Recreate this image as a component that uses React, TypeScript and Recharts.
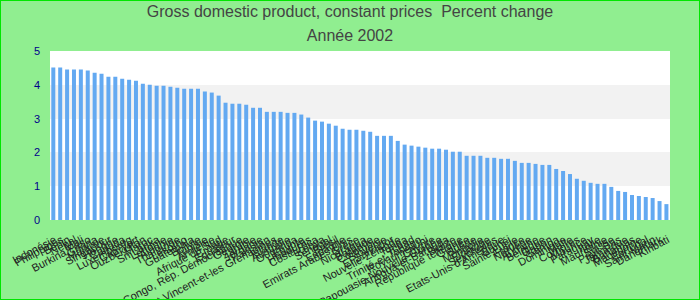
import React from 'react';
import { BarChart, Bar, XAxis, YAxis, CartesianGrid, ReferenceArea } from 'recharts';

const categories: string[] = [
  'Indonésie', 'Philippines', 'Bénin', 'Népal', 'Mali', 'Burkina Faso', 'Ghana', 'Malaisie', 'Singapour', 'Hongrie',
  'Canada', 'Luxembourg', 'Cap-Vert', 'Ouzbékistan', 'Maroc', 'Sri Lanka', 'Lettonie', 'Albanie', 'Thaïlande', 'Lesotho',
  'Guatemala', 'Bolivie', 'Tunisie', 'Arménie', 'Afrique du Sud', 'Croatie', 'Equateur', 'Congo, Rép. Démocratique', 'Géorgie', 'Zambie',
  'Jordanie', 'Pakistan', 'Saint-Vincent-et-les Grenadines', 'Islande', 'Australie', 'Ouganda', 'Egypte', 'Honduras', 'Costa Rica', 'Kenya',
  'Sénégal', 'Brésil', 'Espagne', 'Emirats Arabes Unis', 'Grèce', 'Nicaragua', 'Barbade', 'Colombie', 'Slovénie', 'El Salvador',
  'Nouvelle-Zélande', 'Tonga', 'Tchad', 'Trinité-et-Tobago', 'Royaume-Uni', 'Chypre', 'Papouasie-Nouvelle-Guinée', 'Antigua-et-Barbuda', 'Belize', 'République tchèque',
  'Guinée', 'Suède', 'Mongolie', 'Finlande', 'Seychelles', "Etats-Unis d'Amérique", 'Brunéi', 'Sainte-Lucie', 'France', 'Norvège',
  'Autriche', 'Belgique', 'Gabon', 'Samoa', 'Dominique', 'Malte', 'Comores', 'Maurice', 'Paraguay', 'Italie',
  'Mauritanie', 'Suisse', 'Pays-Bas', 'Jamaïque', 'Bahamas', 'Macédoine', 'Portugal', 'Saint-Marin', 'Danemark', 'Kiribati',
];

const values: number[] = [
  4.51, 4.51, 4.45, 4.45, 4.45, 4.42, 4.36, 4.33, 4.24, 4.24,
  4.18, 4.15, 4.12, 4.03, 4.0, 3.97, 3.97, 3.94, 3.91, 3.88,
  3.88, 3.88, 3.8, 3.77, 3.68, 3.47, 3.44, 3.44, 3.41, 3.32,
  3.32, 3.2, 3.2, 3.2, 3.17, 3.17, 3.12, 3.03, 2.94, 2.91,
  2.85, 2.79, 2.7, 2.67, 2.67, 2.64, 2.61, 2.49, 2.49, 2.49,
  2.34, 2.23, 2.2, 2.17, 2.14, 2.11, 2.11, 2.08, 2.02, 2.02,
  1.9, 1.9, 1.9, 1.84, 1.84, 1.81, 1.81, 1.75, 1.69, 1.69,
  1.66, 1.63, 1.63, 1.51, 1.45, 1.36, 1.22, 1.16, 1.1, 1.07,
  1.07, 0.98, 0.86, 0.83, 0.74, 0.71, 0.68, 0.65, 0.56, 0.47,
];

const yTicks: number[] = [0, 1, 2, 3, 4, 5];

const titleLine1 = 'Gross domestic product, constant prices  Percent change';
const titleLine2 = 'Année 2002';

const data = categories.map((name, i) => ({ name, value: values[i] }));

const FONT = '"Liberation Sans", Arial, sans-serif';

export default function App() {
  return (
    <div
      style={{
        position: 'fixed',
        left: 0,
        top: 0,
        width: 700,
        height: 300,
        background: '#90ee90',
        fontFamily: FONT,
        overflow: 'hidden',
      }}
    >
      <div
        style={{
          position: 'absolute',
          left: 0,
          top: 3,
          width: 700,
          textAlign: 'center',
          fontSize: 16,
          color: '#444',
          whiteSpace: 'pre',
          lineHeight: '18px',
        }}
      >
        {titleLine1}
      </div>
      <div
        style={{
          position: 'absolute',
          left: 0,
          top: 27,
          width: 700,
          textAlign: 'center',
          fontSize: 16,
          color: '#444',
          whiteSpace: 'pre',
          lineHeight: '18px',
        }}
      >
        {titleLine2}
      </div>
      <div style={{ position: 'absolute', left: 0, top: 0 }}>
        <BarChart
          width={700}
          height={300}
          data={data}
          margin={{ top: 51, right: 30, bottom: 0, left: 0 }}
          barCategoryGap="19%"
        >
          <CartesianGrid
            vertical={false}
            stroke="transparent"
            fill="#ffffff"
            horizontalFill={['#ffffff', '#f2f2f2']}
          />
          <XAxis
            dataKey="name"
            interval={0}
            height={80}
            axisLine={false}
            tickLine={false}
            tickMargin={9}
            angle={-28}
            textAnchor="end"
            tick={{ fontSize: 11, fill: '#222', fontFamily: FONT }}
          />
          <YAxis
            width={50}
            domain={[0, 5]}
            ticks={yTicks}
            axisLine={false}
            tickLine={false}
            tickMargin={4}
            tick={{ fontSize: 11, fill: '#00008b', fontFamily: FONT }}
          />
          <Bar dataKey="value" fill="#63a9f1" isAnimationActive={false} />
          <ReferenceArea
            x1={categories[0]}
            x2={categories[categories.length - 1]}
            y1={0}
            y2={5}
            fill="none"
            fillOpacity={0}
            stroke="#d4d4d4"
            strokeWidth={1}
          />
        </BarChart>
      </div>
      <div
        style={{
          position: 'absolute',
          left: 0,
          top: 0,
          width: 700,
          height: 300,
          boxSizing: 'border-box',
          border: '1px solid #00e600',
          pointerEvents: 'none',
        }}
      />
    </div>
  );
}
